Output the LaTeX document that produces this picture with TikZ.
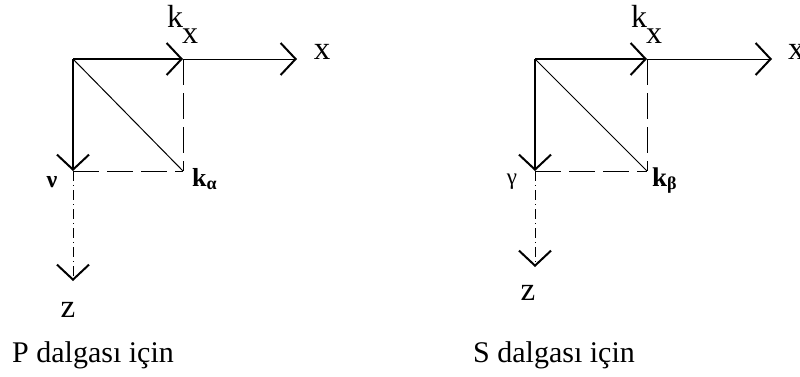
\documentclass[tikz,border=0pt]{standalone}
\usepackage{fontspec}
\setmainfont{Liberation Serif}
\usetikzlibrary{arrows.meta}
\begin{document}
\begin{tikzpicture}[x=1pt,y=-1pt,
  axis/.style={line width=2.2pt,-{Straight Barb[length=15pt,width=32pt,line width=2pt]}},
  thinax/.style={line width=1pt,-{Straight Barb[length=15pt,width=32pt,line width=2pt]}},
  dashax/.style={line width=0.8pt,dash pattern=on 10pt off 4pt on 1pt off 4pt,-{Straight Barb[length=15pt,width=32pt,line width=2pt]}},
  dashln/.style={line width=1pt,dash pattern=on 26pt off 8pt},
  diag/.style={line width=1pt},
  lbl/.style={inner sep=0pt,font=\fontsize{33}{33}\selectfont},
  title/.style={inner sep=0pt,anchor=base west,font=\fontsize{30}{30}\selectfont}]
\useasboundingbox (0,0) rectangle (800,376);
% ---------- left: P wave ----------
\coordinate (Ol) at (73,59);
\coordinate (KXl) at (183,59);
\coordinate (Xl) at (297,59);
\coordinate (Vl) at (73,171);
\coordinate (KAl) at (183,171);
\coordinate (Zl) at (73,281);
\draw[thinax] (KXl) -- (Xl);
\draw[axis] (Ol) -- (KXl);
\draw[axis] (Ol) -- (Vl);
\draw[dashax] (Vl) -- (Zl);
\draw[diag] (Ol) -- (KAl);
\draw[dashln] (KXl) -- (KAl);
\draw[dashln] (Vl) -- (KAl);
\node[inner sep=0pt,anchor=base west,font=\fontsize{32}{32}\selectfont] (lkx) at (167,27) {k\kern-1pt\raisebox{-16pt}{x}};
\node[lbl] (lx) at (322,52) {x};
\node[inner sep=0pt,font=\fontsize{24}{24}\selectfont\bfseries] (lnu) at (52,182) {ν};
\node[inner sep=0pt,anchor=base west,font=\fontsize{26}{26}\selectfont\bfseries] (lka) at (192,186) {k\raisebox{-3pt}{\fontsize{18}{18}\selectfont α}};
\node[lbl] (lz) at (68,310) {z};
\node[title] (lt) at (12,362) {P dalgası için};
% ---------- right: S wave ----------
\coordinate (Or) at (535,59);
\coordinate (KXr) at (647,59);
\coordinate (Xr) at (772,59);
\coordinate (Vr) at (535,171);
\coordinate (KBr) at (647,171);
\coordinate (Zr) at (535,267);
\draw[thinax] (KXr) -- (Xr);
\draw[axis] (Or) -- (KXr);
\draw[axis] (Or) -- (Vr);
\draw[dashax] (Vr) -- (Zr);
\draw[diag] (Or) -- (KBr);
\draw[dashln] (KXr) -- (KBr);
\draw[dashln] (Vr) -- (KBr);
\node[inner sep=0pt,anchor=base west,font=\fontsize{32}{32}\selectfont] (rkx) at (631,27) {k\kern-1pt\raisebox{-16pt}{x}};
\node[lbl,anchor=west] (rx) at (788,52) {x};
\node[inner sep=0pt,font=\fontsize{23}{23}\selectfont] (rgam) at (512,182) {γ};
\node[inner sep=0pt,anchor=base west,font=\fontsize{27}{27}\selectfont\bfseries] (rkb) at (652,186) {k\raisebox{-3pt}{\fontsize{18}{18}\selectfont β}};
\node[lbl] (rz) at (528,293) {z};
\node[title] (rt) at (473,362) {S dalgası için};
\end{tikzpicture}
\end{document}
